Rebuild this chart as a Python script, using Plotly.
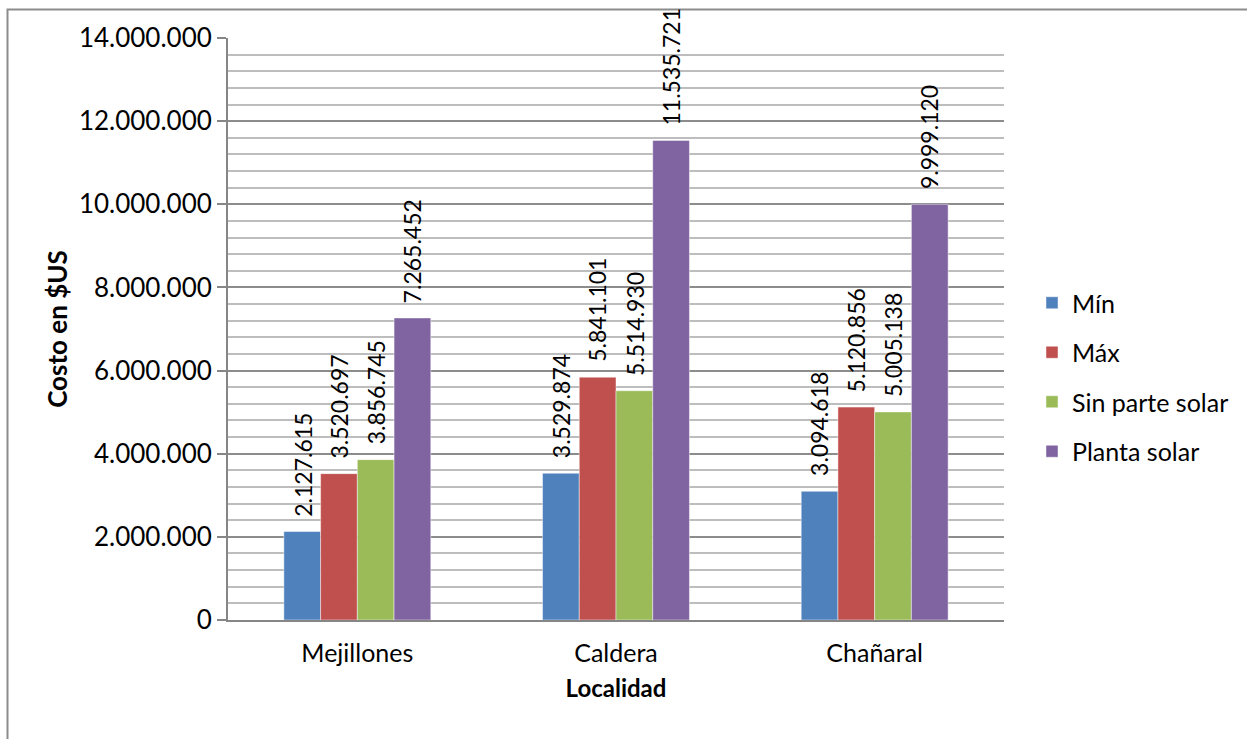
import plotly.graph_objects as go

localidades = ["Mejillones", "Caldera", "Chañaral"]
series_names = ["Mín", "Máx", "Sin parte solar", "Planta solar"]
valores_min = [2127615, 3529874, 3094618]
valores_max = [3520697, 5841101, 5120856]
valores_sin_solar = [3856745, 5514930, 5005138]
valores_planta = [7265452, 11535721, 9999120]
colores = ["#4F81BD", "#C0504D", "#9BBB59", "#8064A2"]

FONT = "Lato"
BARGAP = 0.432

W, H = 1247, 739
L, R, T, B = 228, 1004, 38, 620
pw, ph = R - L, B - T

def px_x(p):
    return (p - L) / pw

def px_y(p):
    return (B - p) / ph

def fmt_es(v):
    return f"{v:,}".replace(",", ".")

series_vals = [valores_min, valores_max, valores_sin_solar, valores_planta]

fig = go.Figure()
for name, vals, col in zip(series_names, series_vals, colores):
    fig.add_trace(go.Bar(
        x=localidades, y=vals, name=name, legendgroup=name,
        marker=dict(color=col, line=dict(color="rgba(255,255,255,0.45)", width=1)),
    ))

# value labels above each bar, rotated to read bottom-to-top
n = len(series_names)
bar_px = pw / len(localidades) * (1 - BARGAP) / n
annotations = []
for i, vals in enumerate(series_vals):
    for cat, v in zip(localidades, vals):
        annotations.append(dict(
            x=cat, y=v, xref="x", yref="y", text=fmt_es(v),
            textangle=-90, showarrow=False,
            xanchor="center", yanchor="bottom",
            xshift=(i - (n - 1) / 2) * bar_px, yshift=13,
            font=dict(family=FONT, size=23, color="#000000"),
        ))

fig.update_layout(
    width=W, height=H,
    margin=dict(l=L, r=W - R, t=T, b=H - B),
    paper_bgcolor="white", plot_bgcolor="white",
    separators=",.",
    barmode="group", bargap=BARGAP, bargroupgap=0,
    font=dict(family=FONT, size=25, color="#000000"),
    showlegend=True,
    legend=dict(x=px_x(1032), y=px_y(377), xanchor="left", yanchor="middle",
                font=dict(family=FONT, size=25), tracegroupgap=14,
                itemwidth=30, bgcolor="rgba(0,0,0,0)"),
    xaxis=dict(
        showline=True, linecolor="#868686", linewidth=2,
        ticks="", tickfont=dict(family=FONT, size=25), ticklabelstandoff=10,
        title=dict(text="<b>Localidad</b>", font=dict(family=FONT, size=24), standoff=14),
    ),
    yaxis=dict(
        range=[0, 14000000], dtick=2000000, tickformat=",d",
        showline=True, linecolor="#868686", linewidth=2,
        ticks="outside", ticklen=9, tickcolor="#868686", tickwidth=2,
        showgrid=True, gridcolor="#8C8C8C", gridwidth=2,
        minor=dict(dtick=400000, showgrid=True, gridcolor="#BDBDBD", gridwidth=2, ticks=""),
        zeroline=False,
        tickfont=dict(family=FONT, size=26),
        title=dict(text="<b>Costo en $US</b>", font=dict(family=FONT, size=26), standoff=4),
    ),
    annotations=annotations,
    shapes=[dict(type="rect", xref="paper", yref="paper",
                 x0=px_x(7.5), x1=px_x(1265), y0=px_y(760), y1=px_y(9.5),
                 line=dict(color="#8C8C8C", width=2), fillcolor="rgba(0,0,0,0)",
                 layer="below")],
)

fig.write_html("out.html")
